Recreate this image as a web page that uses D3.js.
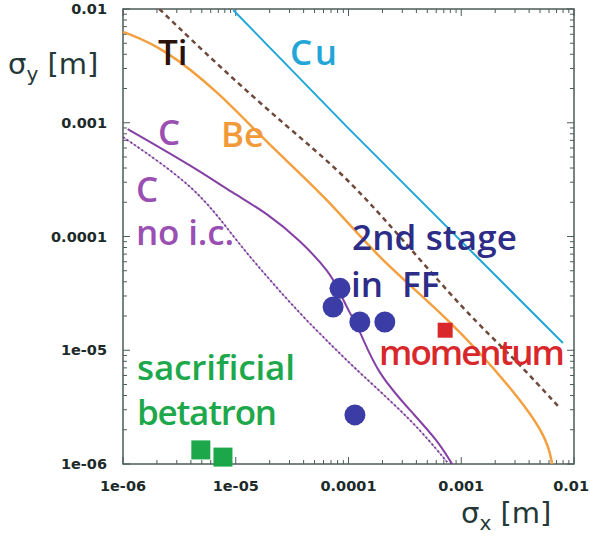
<!DOCTYPE html>
<html>
<head>
<meta charset="utf-8">
<script src="https://cdn.jsdelivr.net/npm/d3@7"></script>
<style>
  body { margin: 0; background: #fff; }
  svg { display: block; }
  text { white-space: pre; }
</style>
</head>
<body>
<div id="graf"></div>
<script>
// curves, [sigma_x, sigma_y] in metres
const cu = [[9.5e-6, 9.8e-3], [9.7e-5, 9.2e-4], [1.38e-3, 6.6e-5], [7.98e-3, 1.16e-5]]
const ti = [[2.1e-6, 1e-2], [7.2e-6, 3.1e-3], [2.85e-5, 9.2e-4], [8.9e-5, 3.6e-4], [2.7e-4, 1.07e-4],
  [1.12e-3, 2.1e-5], [2.88e-3, 8.7e-6], [7.5e-3, 3.1e-6]]
const be = [[1e-6, 6.3e-3], [2.26e-6, 4.6e-3], [7.2e-6, 1.83e-3], [1.9e-5, 6.6e-4], [6.4e-5, 2.2e-4],
  [1.9e-4, 6.2e-5], [7.5e-4, 1.96e-5], [2.9e-3, 4.5e-6], [5.75e-3, 1.73e-6], [6.4e-3, 1e-6]]
const carbon = [[1.1e-6, 8.8e-4], [4.2e-6, 4.1e-4], [9.5e-6, 2.4e-4], [1.9e-5, 1.6e-4], [3.7e-5, 9.3e-5],
  [6.9e-5, 4.8e-5], [8.4e-5, 3.2e-5], [1.03e-4, 2.1e-5], [1.26e-4, 1.5e-5], [1.79e-4, 6.3e-6],
  [3.7e-4, 2.8e-6], [6.1e-4, 1.63e-6], [8.3e-4, 1e-6]]
const carbonNoIc = [[1e-6, 7.5e-4], [4.5e-6, 2.7e-4], [9.5e-6, 9.9e-5], [1.9e-5, 4.4e-5], [3.7e-5, 2.1e-5],
  [7.3e-5, 1.07e-5], [1.26e-4, 6.3e-6], [3.7e-4, 2.4e-6], [7.5e-4, 1.04e-6]]

// markers
const ffStage = [[8.4e-5, 3.5e-5], [7.3e-5, 2.4e-5], [1.26e-4, 1.77e-5], [2.1e-4, 1.77e-5], [1.14e-4, 2.7e-6]]
const momentum = [[7.2e-4, 1.5e-5]]
const betatron = [[4.9e-6, 1.33e-6], [7.7e-6, 1.15e-6]]

const tickValues = [1e-6, 1e-5, 1e-4, 1e-3, 1e-2]
const tickLabels = ["1e-06", "1e-05", "0.0001", "0.001", "0.01"]

const anchoTotal = 590
const altoTotal = 537
const margins = { top: 9, right: 16, bottom: 73, left: 123 }
const ancho = anchoTotal - margins.left - margins.right
const alto = altoTotal - margins.top - margins.bottom

const svg = d3.select("#graf")
  .append("svg")
  .attr("width", anchoTotal)
  .attr("height", altoTotal)

const x = d3.scaleLog().domain([1e-6, 1e-2]).range([0, ancho])
const y = d3.scaleLog().domain([1e-6, 1e-2]).range([alto, 0])

const g = svg.append("g")
  .attr("transform", `translate(${margins.left}, ${margins.top})`)

svg.append("defs").append("clipPath").attr("id", "clip")
  .append("rect").attr("width", ancho).attr("height", alto)

// minor ticks inside the frame on all four sides
const allTicks = x.ticks()
const isMajor = (d) => tickValues.some((t) => Math.abs(t - d) / t < 1e-6)
const frameColor = "#4b5c5a"
const tickLen = (d) => (isMajor(d) ? 7 : 4)

const axes = g.append("g").attr("stroke", frameColor).attr("stroke-width", 1)
axes.selectAll(".tb").data(allTicks).join("line")
  .attr("x1", (d) => x(d)).attr("x2", (d) => x(d))
  .attr("y1", alto).attr("y2", (d) => alto - tickLen(d))
axes.selectAll(".tt").data(allTicks).join("line")
  .attr("x1", (d) => x(d)).attr("x2", (d) => x(d))
  .attr("y1", 0).attr("y2", (d) => tickLen(d))
axes.selectAll(".tl").data(allTicks).join("line")
  .attr("y1", (d) => y(d)).attr("y2", (d) => y(d))
  .attr("x1", 0).attr("x2", (d) => tickLen(d))
axes.selectAll(".tr").data(allTicks).join("line")
  .attr("y1", (d) => y(d)).attr("y2", (d) => y(d))
  .attr("x1", ancho).attr("x2", (d) => ancho - tickLen(d))

g.append("rect")
  .attr("width", ancho).attr("height", alto)
  .attr("fill", "none").attr("stroke", frameColor).attr("stroke-width", 1.5)

// tick labels
const tickFont = { family: "DejaVu Sans", size: "14.5px", color: "#1c2a2a" }
const last = tickValues.length - 1
g.selectAll(".xl").data(tickValues).join("text")
  .attr("x", (d, i) => (i === last ? anchoTotal - margins.left - 1 : x(d)))
  .attr("y", alto + 27)
  .attr("text-anchor", (d, i) => (i === last ? "end" : "middle"))
  .attr("font-family", tickFont.family).attr("font-weight", "bold")
  .attr("font-size", tickFont.size).attr("fill", tickFont.color)
  .text((d, i) => tickLabels[i])
g.selectAll(".yl").data(tickValues).join("text")
  .attr("x", -16).attr("y", (d) => y(d)).attr("dy", "0.36em")
  .attr("text-anchor", "end")
  .attr("font-family", tickFont.family).attr("font-weight", "bold")
  .attr("font-size", tickFont.size).attr("fill", tickFont.color)
  .text((d, i) => tickLabels[i])

// curves
const line = d3.line()
  .x((d) => x(d[0]))
  .y((d) => y(d[1]))
  .curve(d3.curveBasis)

const curves = g.append("g").attr("clip-path", "url(#clip)").attr("fill", "none")

curves.append("path").datum(carbonNoIc).attr("d", line)
  .attr("stroke", "#c79ad6").attr("stroke-width", 1.2)
curves.append("path").datum(carbonNoIc).attr("d", line)
  .attr("stroke", "#6e3a8e").attr("stroke-width", 1.8).attr("stroke-dasharray", "2,2.5")
curves.append("path").datum(carbon).attr("d", line)
  .attr("stroke", "#8440a4").attr("stroke-width", 2)
curves.append("path").datum(be).attr("d", line)
  .attr("stroke", "#f2a040").attr("stroke-width", 2.5)
curves.append("path").datum(ti).attr("d", line)
  .attr("stroke", "#6e4a3c").attr("stroke-width", 2.5).attr("stroke-dasharray", "5,4")
curves.append("path").datum(cu).attr("d", line.curve(d3.curveLinear))
  .attr("stroke", "#22a8d8").attr("stroke-width", 2)

// markers
g.selectAll(".ff").data(ffStage).join("circle")
  .attr("cx", (d) => x(d[0])).attr("cy", (d) => y(d[1]))
  .attr("r", 10.5).attr("fill", "#3c3ca6")

const redSize = 15
g.selectAll(".mom").data(momentum).join("rect")
  .attr("x", (d) => x(d[0]) - redSize / 2).attr("y", (d) => y(d[1]) - redSize / 2)
  .attr("width", redSize).attr("height", redSize).attr("fill", "#d8282c")

const greenSize = 19
g.selectAll(".bet").data(betatron).join("rect")
  .attr("x", (d) => x(d[0]) - greenSize / 2).attr("y", (d) => y(d[1]) - greenSize / 2)
  .attr("width", greenSize).attr("height", greenSize).attr("fill", "#1ca84a")

// annotations (page coordinates)
const note = (txt, px, py, color, len) => {
  const t = svg.append("text")
    .attr("x", px).attr("y", py)
    .attr("font-family", "Open Sans").attr("font-weight", 600)
    .attr("font-size", "35px").attr("fill", color)
    .text(txt)
  if (len) t.attr("textLength", len).attr("lengthAdjust", "spacing")
}
note("Ti", 158, 65, "#2b1208")
note("Cu", 290, 65, "#22a6d8", 47)
note("C", 158, 145, "#9a50b2")
note("Be", 221, 147, "#f29a3a")
note("C", 136, 202, "#9a50b2")
note("no i.c.", 136, 245, "#9a50b2", 98)
note("2nd stage", 352, 250, "#2d2d88", 165)
note("in", 351, 297, "#2d2d88")
note("FF", 402, 297, "#2d2d88")
note("momentum", 379, 365, "#d8282c", 186)
note("sacrificial", 137, 380, "#1ea84c", 158)
note("betatron", 137, 425, "#1ea84c", 140)

// axis titles
const title = (main, sub, px, py) => {
  const t = svg.append("text")
    .attr("x", px).attr("y", py)
    .attr("font-family", "DejaVu Sans").attr("font-size", "29px").attr("fill", "#243838")
  t.append("tspan").text(main)
  t.append("tspan").attr("font-size", "20px").attr("dy", 7).text(sub)
  t.append("tspan").attr("dy", -7).text(" [m]")
}
title("σ", "y", 8, 74)
title("σ", "x", 461, 523)
</script>
</body>
</html>
